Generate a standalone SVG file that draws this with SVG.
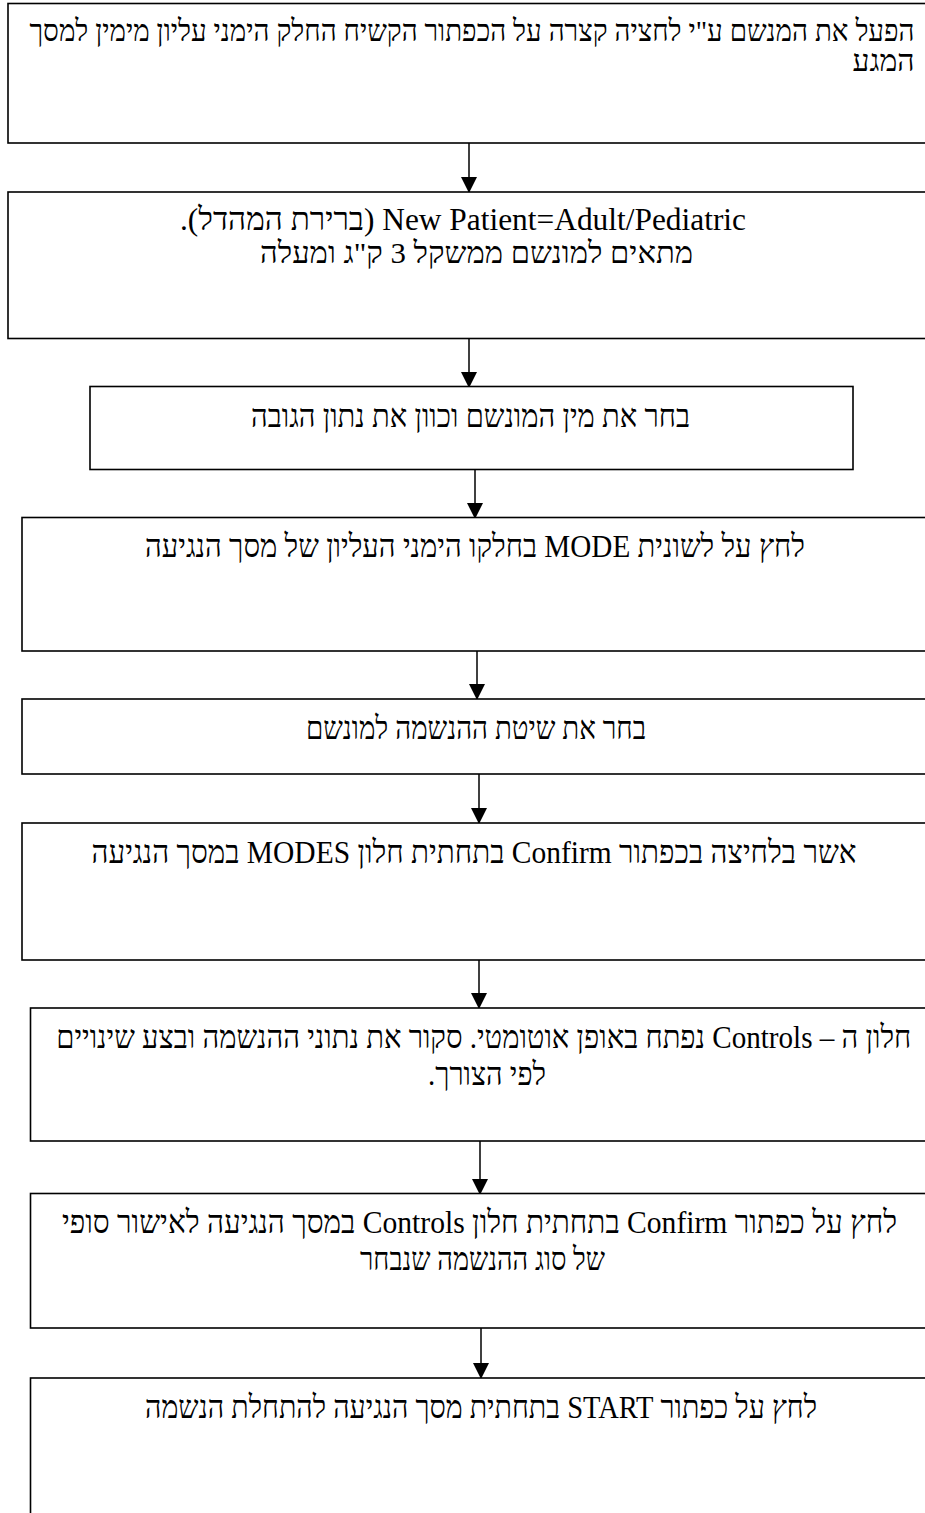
<svg xmlns="http://www.w3.org/2000/svg" width="925" height="1513" viewBox="0 0 925 1513">
<defs>
<style>
.box{fill:#fff;stroke:#000;stroke-width:1.6}
.t{font-family:"Liberation Serif","Times New Roman","DejaVu Serif",serif;font-size:32px;fill:#000}
.s{font-size:30px}
.c{text-anchor:middle}
.conn{stroke:#000;stroke-width:1.5;fill:none;marker-end:url(#ah)}
</style>
<marker id="ah" markerUnits="userSpaceOnUse" markerWidth="16" markerHeight="16" refX="15" refY="8" orient="auto" viewBox="0 0 16 16">
<path d="M0,0 L16,8 L0,16 Z" fill="#000"/>
</marker>
</defs>
<rect width="925" height="1513" fill="#fff"/>
<g id="connectors">
<line class="conn" x1="469" y1="143" x2="469" y2="192"/>
<line class="conn" x1="469" y1="339" x2="469" y2="387"/>
<line class="conn" x1="475" y1="470" x2="475" y2="518"/>
<line class="conn" x1="477" y1="651" x2="477" y2="699"/>
<line class="conn" x1="479" y1="774" x2="479" y2="823"/>
<line class="conn" x1="479" y1="960" x2="479" y2="1008"/>
<line class="conn" x1="480" y1="1141" x2="480" y2="1194"/>
<line class="conn" x1="481" y1="1328" x2="481" y2="1378"/>
</g>
<g id="n1">
<rect class="box" x="8" y="3.5" width="930" height="139.5"/>
<text class="t s" direction="rtl" x="914.5" y="41" textLength="885" lengthAdjust="spacingAndGlyphs">הפעל את המנשם ע"י לחציה קצרה על הכפתור הקשיח החלק הימני עליון מימין למסך</text>
<text class="t s" direction="rtl" x="914.5" y="71" textLength="62" lengthAdjust="spacingAndGlyphs">המגע</text>
</g>
<g id="n2">
<rect class="box" x="8" y="192" width="930" height="146.5"/>
<text class="t c" direction="rtl" x="463" y="230" textLength="566" lengthAdjust="spacingAndGlyphs">New Patient=Adult/Pediatric (ברירת המהדל).</text>
<text class="t s c" direction="rtl" x="476.5" y="263" textLength="433" lengthAdjust="spacingAndGlyphs">מתאים למונשם ממשקל 3 ק"ג ומעלה</text>
</g>
<g id="n3">
<rect class="box" x="90" y="386.5" width="763" height="83"/>
<text class="t c" direction="rtl" x="470.5" y="427" textLength="439" lengthAdjust="spacingAndGlyphs">בחר את מין המונשם וכוון את נתון הגובה</text>
</g>
<g id="n4">
<rect class="box" x="22" y="517.5" width="920" height="133.5"/>
<text class="t c" direction="rtl" x="475" y="557" textLength="660" lengthAdjust="spacingAndGlyphs">לחץ על לשונית MODE בחלקו הימני העליון של מסך הנגיעה</text>
</g>
<g id="n5">
<rect class="box" x="22" y="699" width="920" height="75"/>
<text class="t c" direction="rtl" x="476" y="739" textLength="340" lengthAdjust="spacingAndGlyphs">בחר את שיטת ההנשמה למונשם</text>
</g>
<g id="n6">
<rect class="box" x="22" y="823" width="920" height="137"/>
<text class="t c" direction="rtl" x="474" y="863" textLength="765" lengthAdjust="spacingAndGlyphs">אשר בלחיצה בכפתור Confirm בתחתית חלון MODES במסך הנגיעה</text>
</g>
<g id="n7">
<rect class="box" x="30.5" y="1008" width="910" height="133"/>
<text class="t c" direction="rtl" x="483.75" y="1048" textLength="855" lengthAdjust="spacingAndGlyphs">חלון ה – Controls נפתח באופן אוטומטי. סקור את נתוני ההנשמה ובצע שינויים</text>
<text class="t c" direction="rtl" x="487" y="1085" textLength="118" lengthAdjust="spacingAndGlyphs">לפי הצורך.</text>
</g>
<g id="n8">
<rect class="box" x="30.5" y="1193.5" width="910" height="134.5"/>
<text class="t c" direction="rtl" x="479.5" y="1233" textLength="835" lengthAdjust="spacingAndGlyphs">לחץ על כפתור Confirm בתחתית חלון Controls במסך הנגיעה לאישור סופי</text>
<text class="t c" direction="rtl" x="482.5" y="1270" textLength="245" lengthAdjust="spacingAndGlyphs">של סוג ההנשמה שנבחר</text>
</g>
<g id="n9">
<rect class="box" x="30.5" y="1378" width="910" height="150"/>
<text class="t c" direction="rtl" x="481" y="1418" textLength="672" lengthAdjust="spacingAndGlyphs">לחץ על כפתור START בתחתית מסך הנגיעה להתחלת הנשמה</text>
</g>
</svg>
